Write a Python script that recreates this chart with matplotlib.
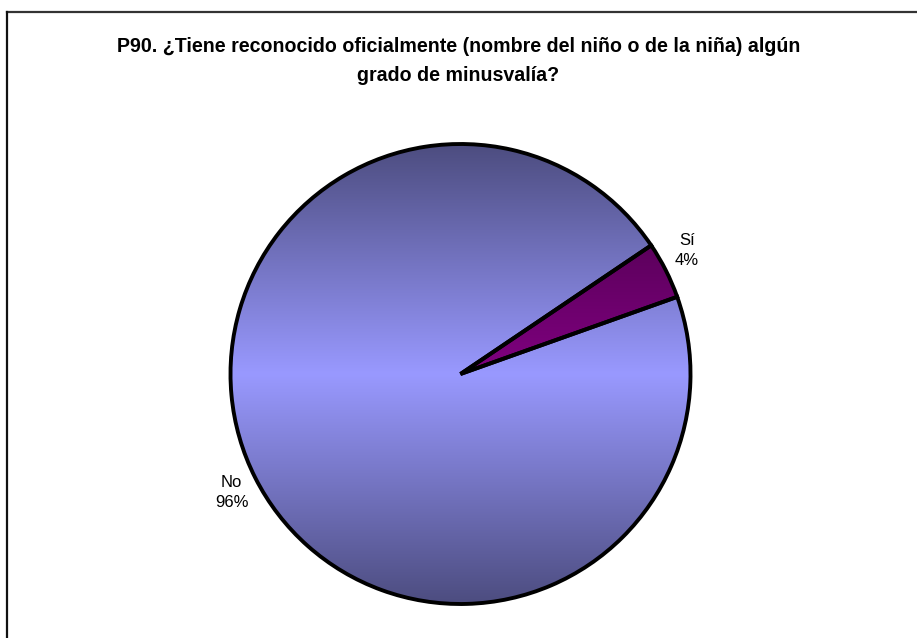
import numpy as np
import matplotlib
matplotlib.use("Agg")
import matplotlib.pyplot as plt
from matplotlib.lines import Line2D
from matplotlib.colors import to_rgb

categories = ["Sí", "No"]
values = [4, 96]
pct_labels = ["4%", "96%"]
title = "P90. ¿Tiene reconocido oficialmente (nombre del niño o de la niña) algún\ngrado de minusvalía?"
base_colors = ["#800080", "#9999FF"]

plt.rcParams['font.family'] = ['Liberation Sans', 'DejaVu Sans']

W, H = 917, 638
fig = plt.figure(figsize=(W / 100, H / 100), dpi=100)
fig.patch.set_facecolor("white")

# frame lines (top and left only)
fig.add_artist(Line2D([6.5 / W, 1.0], [1 - 11.5 / H, 1 - 11.5 / H], color="#333333", lw=1.6))
fig.add_artist(Line2D([6.5 / W, 6.5 / W], [0, 1 - 11.5 / H], color="#111111", lw=1.6))

fig.text(0.5, 1 - 61 / H, title, ha="center", va="center", fontsize=14.1,
         fontweight="bold", linespacing=1.7)

cx, cy, R = 460.5, 374, 230
ax = fig.add_axes([(cx - R) / W, (H - cy - R) / H, 2 * R / W, 2 * R / H])
ax.set_xlim(-1, 1)
ax.set_ylim(-1, 1)
ax.axis("off")

labels = [f"{c}\n{p}" for c, p in zip(categories, pct_labels)]
wedges, texts = ax.pie(values, labels=labels, startangle=19.6, counterclock=True,
                       colors=base_colors, radius=1.0,
                       wedgeprops=dict(edgecolor="black", linewidth=2.8),
                       textprops=dict(fontsize=12, linespacing=1.4))

# vertical gradient: dark at top/bottom, base in middle
yy = np.linspace(1, -1, 400)[:, None]
fac = 1 - 0.5 * np.abs(yy)
for w, col in zip(wedges, base_colors):
    rgb = np.array(to_rgb(col))
    img = np.clip(fac[:, :, None] * rgb[None, None, :], 0, 1)
    img = np.repeat(img, 4, axis=1)
    im = ax.imshow(img, extent=[-1, 1, -1, 1], aspect="auto", zorder=1.5,
                   interpolation="bilinear")
    im.set_clip_path(w)
    w.set_facecolor("none")
    w.set_zorder(2)

ax.set_xlim(-1, 1)
ax.set_ylim(-1, 1)

# label placement
label_r = [1.12, 1.12]
label_ang_off = [1.8, 0.5]
for w, t, r, off in zip(wedges, texts, label_r, label_ang_off):
    ang = np.deg2rad((w.theta1 + w.theta2) / 2 + off)
    t.set_position((r * np.cos(ang), r * np.sin(ang)))
    t.set_ha("center")
    t.set_va("center")
    t.set_multialignment("center")

fig.savefig("out.png", dpi=100, facecolor="white")
